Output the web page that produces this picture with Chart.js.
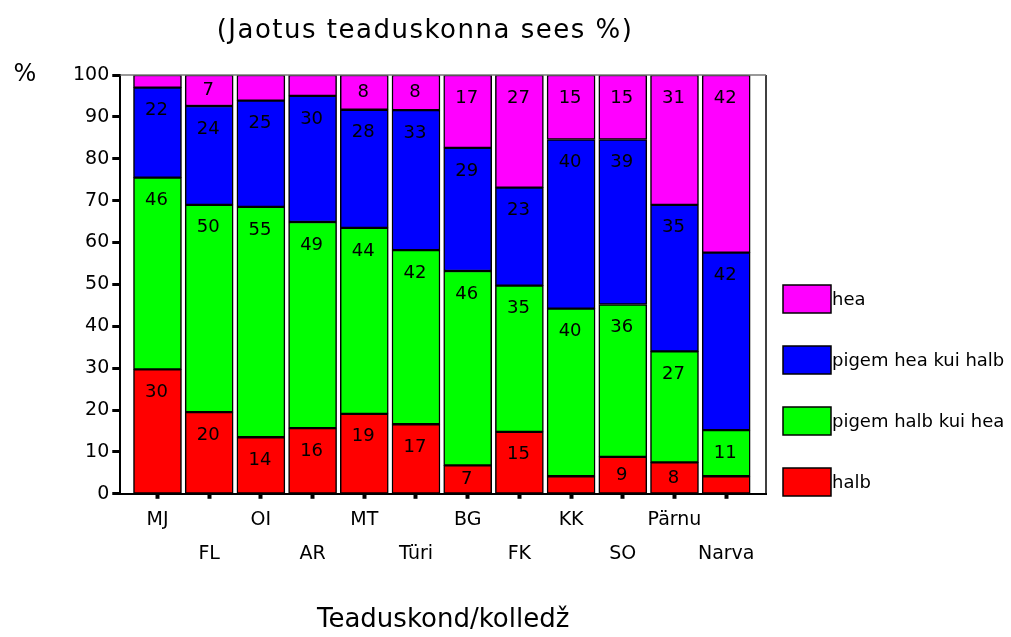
<!DOCTYPE html>
<html>
<head>
<meta charset="utf-8">
<script src="https://cdn.jsdelivr.net/npm/chart.js@4.4.1/dist/chart.umd.min.js"></script>
<style>
    body { margin: 0; background: #fff; }
    canvas { display: block; }
</style>
</head>
<body>
<canvas id="teadusChart" width="1011" height="637"></canvas>
<script>
// andmed (protsendid, alt üles)
const categories = ['MJ', 'FL', 'OI', 'AR', 'MT', 'Türi', 'BG', 'FK', 'KK', 'SO', 'Pärnu', 'Narva'];
const halb      = [29.7, 19.5, 13.5, 15.7, 19.1, 16.6, 6.8, 14.8, 4.2, 8.8, 7.5, 4.2];
const pigemHalb = [45.8, 49.5, 55.0, 49.2, 44.4, 41.6, 46.4, 34.9, 40.0, 36.4, 26.5, 11.0];
const pigemHea  = [21.5, 23.6, 25.4, 30.1, 28.2, 33.4, 29.4, 23.4, 40.4, 39.4, 35.0, 42.4];
const hea       = [3.0, 7.4, 6.1, 5.0, 8.3, 8.4, 17.4, 26.9, 15.4, 15.4, 31.0, 42.4];
const yTicks = [0, 10, 20, 30, 40, 50, 60, 70, 80, 90, 100];

const FONT = "'DejaVu Sans', sans-serif";

function toPoints(arr) {
    return arr.map((v, i) => ({ x: i, y: v }));
}

function makeSet(label, data, color) {
    return {
        label: label,
        data: toPoints(data),
        backgroundColor: color,
        borderColor: '#000',
        borderWidth: 1.5,
        borderSkipped: false,
        barThickness: 48
    };
}

// numbrid ribade sees, legend, pealkiri, raam
const decorPlugin = {
    id: 'decor',
    afterDatasetsDraw(chart) {
        const ctx = chart.ctx;
        const area = chart.chartArea;
        ctx.save();

        // raam
        ctx.lineWidth = 1.5;
        ctx.strokeStyle = '#000';
        ctx.beginPath();
        ctx.moveTo(area.right, area.top);
        ctx.lineTo(area.right, area.bottom);
        ctx.stroke();
        ctx.strokeStyle = '#777';
        ctx.beginPath();
        ctx.moveTo(area.left, area.top);
        ctx.lineTo(area.right, area.top);
        ctx.stroke();

        // väärtused
        ctx.fillStyle = '#000';
        ctx.font = '18px ' + FONT;
        ctx.textAlign = 'center';
        ctx.textBaseline = 'middle';
        chart.data.datasets.forEach((ds, di) => {
            const meta = chart.getDatasetMeta(di);
            meta.data.forEach((bar, i) => {
                const v = ds.data[i].y;
                if (v < 6.5) return;
                const y = Math.min(bar.y + 23, (bar.y + bar.base) / 2);
                ctx.fillText(Math.round(v), bar.x - 1, y);
            });
        });

        // pealkiri
        ctx.font = '26px ' + FONT;
        ctx.letterSpacing = '1.5px';
        ctx.fillText('(Jaotus teaduskonna sees %)', 425, 31);
        ctx.letterSpacing = '0px';
        ctx.font = '24px ' + FONT;
        ctx.fillText('%', 25, 75);

        // legend
        ctx.textAlign = 'left';
        ctx.font = '18px ' + FONT;
        const order = [3, 2, 1, 0];
        order.forEach((di, k) => {
            const ds = chart.data.datasets[di];
            const cy = area.top + 224 + k * 61;
            const bx = area.right + 17;
            ctx.fillStyle = ds.backgroundColor;
            ctx.fillRect(bx, cy - 14, 48, 28);
            ctx.lineWidth = 1.5;
            ctx.strokeStyle = '#000';
            ctx.strokeRect(bx, cy - 14, 48, 28);
            ctx.fillStyle = '#000';
            ctx.fillText(ds.label, bx + 49, cy + 1);
        });

        ctx.restore();
    }
};

const ctx = document.getElementById('teadusChart').getContext('2d');
const teadusChart = new Chart(ctx, {
    type: 'bar',
    data: {
        datasets: [
            makeSet('halb', halb, '#ff0000'),
            makeSet('pigem halb kui hea', pigemHalb, '#00ff00'),
            makeSet('pigem hea kui halb', pigemHea, '#0000ff'),
            makeSet('hea', hea, '#ff00ff')
        ]
    },
    options: {
        responsive: false,
        animation: false,
        layout: {
            padding: { left: 70, right: 245, top: 75, bottom: 1 }
        },
        plugins: {
            legend: { display: false },
            tooltip: { enabled: false }
        },
        scales: {
            x: {
                type: 'linear',
                stacked: true,
                offset: false,
                min: -0.72,
                max: 11.77,
                afterBuildTicks: function(axis) {
                    axis.ticks = categories.map((c, i) => ({ value: i }));
                },
                ticks: {
                    autoSkip: false,
                    maxRotation: 0,
                    color: '#000',
                    padding: 4,
                    font: { family: FONT, size: 19, lineHeight: '34px' },
                    callback: function(value) {
                        const name = categories[value];
                        return value % 2 ? ['', name] : name;
                    }
                },
                grid: {
                    offset: false,
                    drawOnChartArea: false,
                    tickLength: 5,
                    tickWidth: 4,
                    tickColor: '#000'
                },
                border: { display: true, color: '#000', width: 2 },
                title: {
                    display: true,
                    text: 'Teaduskond/kolledž',
                    color: '#000',
                    font: { family: FONT, size: 26 },
                    padding: { top: 30, bottom: 0 }
                }
            },
            y: {
                stacked: true,
                min: 0,
                max: 100,
                afterBuildTicks: function(axis) {
                    axis.ticks = yTicks.map(v => ({ value: v }));
                },
                ticks: {
                    color: '#000',
                    padding: 3,
                    font: { family: FONT, size: 19 }
                },
                grid: {
                    drawOnChartArea: false,
                    tickLength: 8,
                    tickWidth: 3,
                    tickColor: '#000'
                },
                border: { display: true, color: '#000', width: 2 }
            }
        }
    },
    plugins: [decorPlugin]
});
</script>
</body>
</html>
